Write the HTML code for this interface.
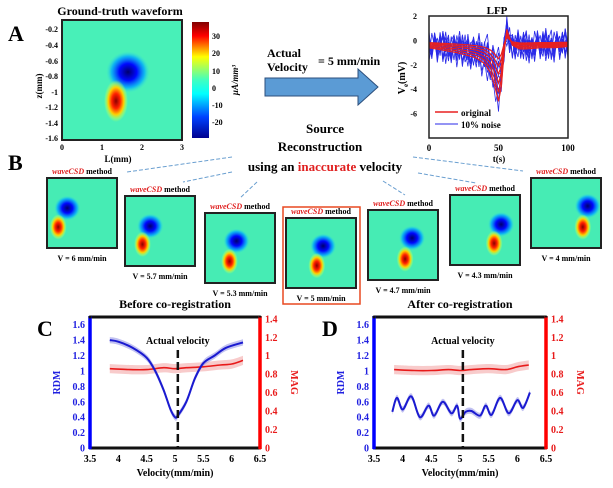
<!DOCTYPE html>
<html><head><meta charset="utf-8"><style>
html,body{margin:0;padding:0;background:#fff;}
svg{display:block;font-family:"Liberation Serif",serif;font-weight:bold;}
</style></head><body>
<svg id="fig" width="613" height="488" viewBox="0 0 613 488">
<defs>
<radialGradient id="gBlue"><stop offset="0" stop-color="#00006e"/><stop offset="0.4" stop-color="#0008ff"/><stop offset="0.75" stop-color="#00a8ff" stop-opacity="0.8"/><stop offset="1" stop-color="#40e8d0" stop-opacity="0"/></radialGradient>
<radialGradient id="gRed"><stop offset="0" stop-color="#8a0000"/><stop offset="0.35" stop-color="#ff2000"/><stop offset="0.65" stop-color="#ffd000"/><stop offset="0.87" stop-color="#b0ff60" stop-opacity="0.5"/><stop offset="1" stop-color="#b0ff60" stop-opacity="0"/></radialGradient>
<linearGradient id="gJet" x1="0" y1="0" x2="0" y2="1"><stop offset="0" stop-color="#800000"/><stop offset="0.12" stop-color="#ff0000"/><stop offset="0.3" stop-color="#ffff00"/><stop offset="0.5" stop-color="#40ffc0"/><stop offset="0.62" stop-color="#00ffff"/><stop offset="0.82" stop-color="#0040ff"/><stop offset="1" stop-color="#00008f"/></linearGradient>
</defs>

<!-- Panel A -->
<text x="8" y="41" font-size="22">A</text>
<text x="120" y="15" font-size="12" text-anchor="middle">Ground-truth waveform</text>
<g>
<rect x="62" y="20" width="120" height="120" fill="#48f0b8"/>
<ellipse cx="128" cy="72" rx="22" ry="21" fill="url(#gBlue)"/>
<ellipse cx="116" cy="101" rx="12" ry="21" fill="url(#gRed)"/>
<rect x="62" y="20" width="120" height="120" fill="none" stroke="#222" stroke-width="2"/>
</g>
<g font-size="8" text-anchor="end">
<text x="58" y="32">-0.2</text><text x="58" y="48">-0.4</text><text x="58" y="64">-0.6</text><text x="58" y="79">-0.8</text><text x="58" y="95">-1</text><text x="58" y="110">-1.2</text><text x="58" y="126">-1.4</text><text x="58" y="141">-1.6</text>
</g>
<text transform="translate(42,86) rotate(-90)" font-size="9" text-anchor="middle">z(mm)</text>
<g font-size="8" text-anchor="middle">
<text x="62" y="150">0</text><text x="102" y="150">1</text><text x="142" y="150">2</text><text x="182" y="150">3</text>
</g>
<text x="118" y="162" font-size="9" text-anchor="middle">L(mm)</text>
<rect x="192" y="22" width="17" height="116" fill="url(#gJet)"/>
<g font-size="8">
<text x="212" y="39">30</text><text x="212" y="56">20</text><text x="212" y="74">10</text><text x="212" y="91">0</text><text x="212" y="108">-10</text><text x="212" y="125">-20</text>
</g>
<text transform="translate(238,80) rotate(-90)" font-size="9" font-style="italic" text-anchor="middle">μA/mm³</text>

<!-- Arrow -->
<text x="267" y="57" font-size="12">Actual</text>
<text x="267" y="71" font-size="12">Velocity</text>
<text x="318" y="65" font-size="12">= 5 mm/min</text>
<polygon points="265,78 358,78 358,69 378,87 358,105 358,96 265,96" fill="#5b9bd5" stroke="#2c4f7c" stroke-width="1"/>

<!-- LFP -->
<text x="497" y="14" font-size="11" text-anchor="middle">LFP</text>
<g id="lfp"></g>
<text transform="translate(405,78) rotate(-90)" font-size="10" text-anchor="middle">V<tspan font-size="7" dy="3">e</tspan><tspan dy="-3">(mV)</tspan></text>
<text x="499" y="162" font-size="9" text-anchor="middle">t(s)</text>

<!-- Source reconstruction text -->
<text x="325" y="133" font-size="13" text-anchor="middle">Source</text>
<text x="320" y="151" font-size="13" text-anchor="middle">Reconstruction</text>
<text x="325" y="171" font-size="13" text-anchor="middle">using an <tspan fill="#e02020">inaccurate</tspan> velocity</text>
<text x="8" y="170" font-size="22">B</text>
<g stroke="#6a9fd0" stroke-width="1" stroke-dasharray="4,2">
<line x1="232" y1="157" x2="127" y2="172"/><line x1="232" y1="172" x2="183" y2="182"/><line x1="257" y1="182" x2="240" y2="198"/>
<line x1="383" y1="181" x2="405" y2="195"/><line x1="418" y1="173" x2="476" y2="183"/><line x1="413" y1="157" x2="523" y2="171"/>
</g>
<rect x="283" y="207" width="77" height="97" fill="none" stroke="#e84820" stroke-width="1.5"/>
<g id="recon"></g>

<!-- Panel C / D -->
<text x="37" y="336" font-size="22">C</text>
<text x="322" y="336" font-size="22">D</text>
<g id="pc"></g>
<g id="pd"></g>
</svg>
<script>
// ---------- data ----------
const lfpT = [0,10,20,30,35,40,44,47,50,52,54,56,58,60,65,70,80,90,100];
const lfpV = [-0.6,-0.8,-1.0,-1.3,-1.5,-1.9,-2.6,-3.6,-5.0,-3.8,-1.0,0.9,0.2,-0.4,-0.7,-0.7,-0.6,-0.6,-0.5];
const lfpScales = [1,0.85,0.7,0.55,0.42,0.3];
const lfpNoise = [0.6,-0.4,0.9,-0.7,0.3,1.0,-0.9,0.5,-0.2,0.8,-1.0,0.4,0.7,-0.5,0.1,-0.8,0.9,-0.3,0.6,-0.6,0.2,-0.9,0.8,-0.1,0.5,-0.7,1.0,-0.4,0.3,-0.8,0.6,0.0,-0.6,0.9,-0.2,0.4,-1.0,0.7,-0.3,0.5,-0.5,0.8,-0.9,0.2,0.6,-0.4,0.9,-0.7,0.1,0.4,-0.6];
const lfpYTicks = [2,0,-2,-4,-6];
const lfpXTicks = [0,50,100];

const reconLabels = ["V = 6 mm/min","V = 5.7 mm/min","V = 5.3 mm/min","V = 5 mm/min","V = 4.7 mm/min","V = 4.3 mm/min","V = 4 mm/min"];
const reconBlueX = [0.29,0.36,0.45,0.53,0.63,0.73,0.81];
const reconBlueY = [0.43,0.43,0.40,0.40,0.40,0.42,0.40];
const reconRedX = [0.16,0.25,0.35,0.44,0.53,0.63,0.74];
const reconRedY = [0.70,0.69,0.69,0.68,0.70,0.69,0.70];

const velX = [3.85,4.0,4.25,4.5,4.65,4.8,4.92,5.0,5.05,5.2,5.35,5.5,5.7,5.9,6.2];
const rdmC = [1.4,1.38,1.3,1.17,1.0,0.75,0.5,0.4,0.42,0.6,0.9,1.1,1.2,1.3,1.37];
const magX = [3.85,4.2,4.5,4.8,5.0,5.2,5.5,5.8,6.0,6.2];
const magC = [0.86,0.85,0.85,0.87,0.86,0.87,0.88,0.9,0.91,0.95];
const velXD = [3.82,3.9,4.0,4.15,4.3,4.45,4.55,4.7,4.85,4.95,5.0,5.1,5.2,5.35,5.45,5.55,5.7,5.85,6.0,6.1,6.22];
const rdmD = [0.47,0.65,0.5,0.67,0.4,0.55,0.42,0.6,0.45,0.55,0.38,0.47,0.48,0.42,0.55,0.43,0.65,0.45,0.62,0.52,0.72];
const magD = [0.85,0.84,0.84,0.85,0.84,0.85,0.86,0.85,0.88,0.9,0.95];
const rdmTicks = [0,0.2,0.4,0.6,0.8,1,1.2,1.4,1.6];
const magTicks = [0,0.2,0.4,0.6,0.8,1,1.2,1.4];
const velTicks = [3.5,4,4.5,5,5.5,6,6.5];

const NS="http://www.w3.org/2000/svg";
function mk(tag,attrs,parent){const e=document.createElementNS(NS,tag);for(const k in attrs)e.setAttribute(k,attrs[k]);parent.appendChild(e);return e;}
function interp(xs,ys,x){for(let i=0;i<xs.length-1;i++){if(x<=xs[i+1]){const f=(x-xs[i])/(xs[i+1]-xs[i]);return ys[i]+f*(ys[i+1]-ys[i]);}}return ys[ys.length-1];}
// Catmull-Rom smooth path through pixel points
function smooth(pts,move){let d=(move?'M':'L')+pts[0][0].toFixed(1)+' '+pts[0][1].toFixed(1);
  for(let i=0;i<pts.length-1;i++){const p0=pts[Math.max(0,i-1)],p1=pts[i],p2=pts[i+1],p3=pts[Math.min(pts.length-1,i+2)];
    const c1=[p1[0]+(p2[0]-p0[0])/6,p1[1]+(p2[1]-p0[1])/6],c2=[p2[0]-(p3[0]-p1[0])/6,p2[1]-(p3[1]-p1[1])/6];
    d+='C'+c1[0].toFixed(1)+' '+c1[1].toFixed(1)+' '+c2[0].toFixed(1)+' '+c2[1].toFixed(1)+' '+p2[0].toFixed(1)+' '+p2[1].toFixed(1);}
  return d;}

// ---------- LFP ----------
(function(){
const g=document.getElementById('lfp');
const X0=429,X1=568,Y0=16,Y1=138;
const xs=t=>X0+(t/100)*(X1-X0);
const ys=v=>Y0+(2-v)/10*(Y1-Y0);
mk('rect',{x:X0,y:Y0,width:X1-X0,height:Y1-Y0,fill:'#fff'},g);
for(let k=0;k<10;k++){
  const sc=lfpScales[k%lfpScales.length];let d='';
  for(let i=0;i<=50;i++){const t=i*2;const v=interp(lfpT,lfpV,t)*sc+lfpNoise[(i+k*7)%lfpNoise.length]*1.2;d+=(i?'L':'M')+xs(t).toFixed(1)+' '+ys(v).toFixed(1);}
  const p=mk('path',{d:d,fill:'none',stroke:'#2a2ae8','stroke-width':0.8},g);
  
  
}
lfpScales.forEach(sc=>{let d='';
  for(let i=0;i<=100;i++){const v=interp(lfpT,lfpV,i)*sc;d+=(i?'L':'M')+xs(i).toFixed(1)+' '+ys(v).toFixed(1);}
  const p=mk('path',{d:d,fill:'none',stroke:'#e82020','stroke-width':1.2},g);
  
  
});
mk('rect',{x:X0,y:Y0,width:X1-X0,height:Y1-Y0,fill:'none',stroke:'#222','stroke-width':1.5},g);
lfpYTicks.forEach(v=>{const t=mk('text',{x:X0-12,y:ys(v)+3,'font-size':8,'text-anchor':'end'},g);t.textContent=v;
  });
lfpXTicks.forEach(v=>{const t=mk('text',{x:xs(v),y:151,'font-size':9,'text-anchor':'middle'},g);t.textContent=v;
  });
const lg=mk('g',{},g);


mk('line',{x1:435,y1:112,x2:458,y2:112,stroke:'#e82020','stroke-width':1.5},lg);
mk('line',{x1:435,y1:124,x2:458,y2:124,stroke:'#2a2ae8','stroke-width':1},lg);
let t1=mk('text',{x:461,y:116,'font-size':9},lg);t1.textContent='original';
let t2=mk('text',{x:461,y:128,'font-size':9},lg);t2.textContent='10% noise';
})();

// ---------- Reconstructions ----------
(function(){
const g=document.getElementById('recon');
const bx=[47,125,205,286,368,450,531],by=[178,196,213,218,210,195,178],bw=70,bh=70;
for(let i=0;i<7;i++){
  const c=mk('g',{},g);
  
  
  mk('rect',{x:bx[i],y:by[i],width:bw,height:bh,fill:'#46ecb4'},c);
  mk('ellipse',{cx:bx[i]+reconBlueX[i]*bw,cy:by[i]+reconBlueY[i]*bh,rx:bw*0.19,ry:bh*0.18,fill:'url(#gBlue)'},c);
  mk('ellipse',{cx:bx[i]+reconRedX[i]*bw,cy:by[i]+reconRedY[i]*bh,rx:bw*0.12,ry:bh*0.18,fill:'url(#gRed)'},c);
  mk('rect',{x:bx[i],y:by[i],width:bw,height:bh,fill:'none',stroke:'#222','stroke-width':2},c);
  const lt=mk('text',{x:bx[i]+bw/2,y:by[i]-4,'font-size':8,'text-anchor':'middle'},c);
  lt.innerHTML='<tspan fill="#e02020" font-style="italic">waveCSD</tspan> method';
  
  const vt=mk('text',{x:bx[i]+bw/2,y:by[i]+bh+13,'font-size':8,'text-anchor':'middle'},c);
  vt.textContent=reconLabels[i];
  
}
})();

// ---------- C / D ----------
function panel(id,X0,X1,title,rx,ry,mx,my,band){
const g=document.getElementById(id);
const Y0=317,Y1=448;
const xs=v=>X0+(v-3.5)/3*(X1-X0);
const yl=v=>Y1-v/1.7*(Y1-Y0);
const yr=v=>Y1-v/1.42*(Y1-Y0);
let t=mk('text',{x:(X0+X1)/2,y:308,'font-size':12,'text-anchor':'middle'},g);t.textContent=title;

function pts(xv,yv,off,sc){return xv.map((x,i)=>[xs(x),sc(yv[i]+off)]);}
function bandPath(xv,yv,w,sc){const up=pts(xv,yv,w,sc),dn=pts(xv,yv,-w,sc).reverse();return smooth(up,true)+smooth(dn,false)+'Z';}
let b=mk('path',{d:bandPath(mx,my,0.05,yr),fill:'#f4a8a8',opacity:0.6},g);

let b2=mk('path',{d:bandPath(rx,ry,band,yl),fill:'#9a9ae8',opacity:0.6},g);

let l1=mk('path',{d:smooth(pts(mx,my,0,yr),true),fill:'none',stroke:'#e81a1a','stroke-width':1.6},g);

let l2=mk('path',{d:smooth(pts(rx,ry,0,yl),true),fill:'none',stroke:'#1a1ad0','stroke-width':2},g);

mk('line',{x1:X0,y1:Y0,x2:X1,y2:Y0,stroke:'#111','stroke-width':3},g);
mk('line',{x1:X0,y1:Y1,x2:X1,y2:Y1,stroke:'#111','stroke-width':3},g);
mk('line',{x1:X0,y1:Y0-1,x2:X0,y2:Y1+1,stroke:'#0000ff','stroke-width':3.5},g);
mk('line',{x1:X1,y1:Y0-1,x2:X1,y2:Y1+1,stroke:'#ff0000','stroke-width':3.5},g);
velTicks.forEach(v=>{mk('circle',{cx:xs(v),cy:Y0,r:1.5,fill:'#111'},g);mk('circle',{cx:xs(v),cy:Y1,r:1.5,fill:'#111'},g);
  const tt=mk('text',{x:xs(v),y:462,'font-size':10,'text-anchor':'middle'},g);tt.textContent=v;
  });
rdmTicks.forEach(v=>{mk('circle',{cx:X0,cy:yl(v),r:1.5,fill:'#0000ff'},g);
  const tt=mk('text',{x:X0-5,y:yl(v)+3.5,'font-size':10,'text-anchor':'end',fill:'#2020e0'},g);tt.textContent=v;
  });
magTicks.forEach(v=>{mk('circle',{cx:X1,cy:yr(v),r:1.5,fill:'#ff0000'},g);
  const tt=mk('text',{x:X1+5,y:yr(v)+3.5,'font-size':10,fill:'#e81a1a'},g);tt.textContent=v;
  });
mk('line',{x1:xs(5.05),y1:350,x2:xs(5.05),y2:Y1,stroke:'#111','stroke-width':2.5,'stroke-dasharray':'8,4'},g);
t=mk('text',{x:xs(5.05),y:344,'font-size':10,'text-anchor':'middle'},g);t.textContent='Actual velocity';

t=mk('text',{x:(X0+X1)/2,y:476,'font-size':10,'text-anchor':'middle'},g);t.textContent='Velocity(mm/min)';

t=mk('text',{transform:`translate(${X0-30},${(Y0+Y1)/2}) rotate(-90)`,'font-size':10,'text-anchor':'middle',fill:'#2020e0'},g);t.textContent='RDM';

t=mk('text',{transform:`translate(${X1+31},${(Y0+Y1)/2}) rotate(90)`,'font-size':10,'text-anchor':'middle',fill:'#e81a1a'},g);t.textContent='MAG';

}
panel('pc',90,260,'Before co-registration',velX,rdmC,magX,magC,0.04);
panel('pd',374,546,'After co-registration',velXD,rdmD,magX,magD,0.04);
</script>
</body></html>
